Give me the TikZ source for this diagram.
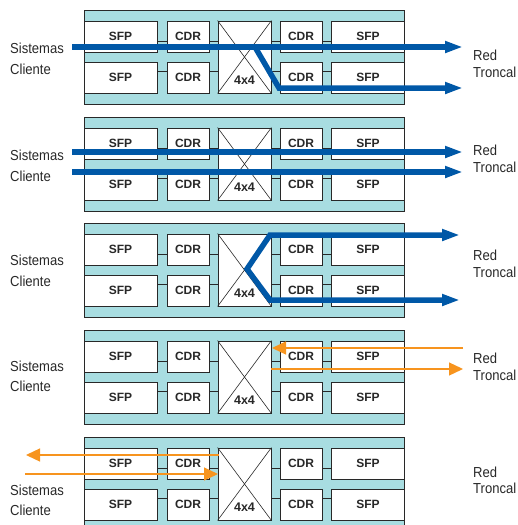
\documentclass[tikz,border=0pt]{standalone}
\usepackage{fontspec}
\setmainfont{Liberation Sans}
\newfontfamily\narrowsans[FakeStretch=0.9]{Liberation Sans}
\usetikzlibrary{arrows.meta}
\definecolor{panelfill}{RGB}{168,221,225}
\definecolor{edgegray}{RGB}{40,40,40}
\definecolor{flowblue}{RGB}{0,88,167}
\definecolor{floworange}{RGB}{247,148,30}
\tikzset{
  panelbox/.style={draw=edgegray, line width=0.9pt, fill=panelfill},
  unitbox/.style={draw=edgegray, line width=0.9pt, fill=white, inner sep=0pt,
    minimum height=31pt, font=\bfseries\fontsize{12}{14}\selectfont, text=edgegray},
  sfpbox/.style={unitbox, minimum width=73pt},
  cdrbox/.style={unitbox, minimum width=42pt},
  swbox/.style={draw=edgegray, line width=0.9pt, fill=white, inner sep=0pt,
    minimum width=53pt, minimum height=72pt},
  wire/.style={draw=edgegray, line width=0.9pt},
  xline/.style={draw=edgegray, line width=0.6pt},
  swlabel/.style={anchor=base, inner sep=0pt, font=\bfseries\fontsize{12.5}{14}\selectfont, text=edgegray},
  sidelabel/.style={anchor=base west, inner sep=0pt, font=\narrowsans\fontsize{14.5}{17}\selectfont, text=edgegray},
  bigflow/.style={draw=flowblue, line width=5.5pt, -{Triangle[length=18pt,width=11pt]}},
  bigflowboth/.style={draw=flowblue, line width=5.5pt,
    {Triangle[length=18pt,width=11pt]}-{Triangle[length=18pt,width=11pt]}},
  smallflow/.style={draw=floworange, line width=1.3pt, -{Triangle[length=14pt,width=13pt]}},
}
\begin{document}
\begin{tikzpicture}[x=1pt,y=-1pt]
\useasboundingbox (0,0) rectangle (517,525);

\foreach \i/\T in {1/10,2/117,3/223,4/330,5/437}{
  \node[panelbox, inner sep=0pt, minimum width=320pt, minimum height=94pt] (pan\i) at (244,\T+47) {};
  % row a (top)
  \node[sfpbox] (sla\i) at (120.5,\T+26.5) {SFP};
  \node[cdrbox] (cla\i) at (188,\T+26.5) {CDR};
  \node[cdrbox] (cra\i) at (301,\T+26.5) {CDR};
  \node[sfpbox] (sra\i) at (368,\T+26.5) {SFP};
  % row b (bottom)
  \node[sfpbox] (slb\i) at (120.5,\T+67.5) {SFP};
  \node[cdrbox] (clb\i) at (188,\T+67.5) {CDR};
  \node[cdrbox] (crb\i) at (301,\T+67.5) {CDR};
  \node[sfpbox] (srb\i) at (368,\T+67.5) {SFP};
  % switch
  \node[swbox] (sw\i) at (244.5,\T+47) {};
  \draw[xline] (sw\i.north west) -- (sw\i.south east);
  \draw[xline] (sw\i.north east) -- (sw\i.south west);
  \node[swlabel] (sq\i) at ([yshift=9pt]sw\i.south) {4x4};
  % connectors
  \draw[wire] ([yshift=-4.5pt]sla\i.east) -- ([yshift=-4.5pt]cla\i.west);
  \draw[wire] ([yshift=-4.5pt]cla\i.east) -- ([yshift=-4.5pt]cla\i.east -| sw\i.west);
  \draw[wire] ([yshift=-4.5pt]cra\i.west -| sw\i.east) -- ([yshift=-4.5pt]cra\i.west);
  \draw[wire] ([yshift=-4.5pt]cra\i.east) -- ([yshift=-4.5pt]sra\i.west);
  \draw[wire] ([yshift=6.5pt]slb\i.east) -- ([yshift=6.5pt]clb\i.west);
  \draw[wire] ([yshift=6.5pt]clb\i.east) -- ([yshift=6.5pt]clb\i.east -| sw\i.west);
  \draw[wire] ([yshift=6.5pt]crb\i.west -| sw\i.east) -- ([yshift=6.5pt]crb\i.west);
  \draw[wire] ([yshift=6.5pt]crb\i.east) -- ([yshift=6.5pt]srb\i.west);
}

% side labels
\node[sidelabel] (sa1) at (10,53) {Sistemas};
\node[sidelabel] (sb1) at (10,74) {Cliente};
\node[sidelabel] (ra1) at (473,60) {Red};
\node[sidelabel] (rb1) at (473,77) {Troncal};
\node[sidelabel] (sa2) at (10,160) {Sistemas};
\node[sidelabel] (sb2) at (10,181) {Cliente};
\node[sidelabel] (ra2) at (473,155) {Red};
\node[sidelabel] (rb2) at (473,172) {Troncal};
\node[sidelabel] (sa3) at (10,265) {Sistemas};
\node[sidelabel] (sb3) at (10,286) {Cliente};
\node[sidelabel] (ra3) at (473,260) {Red};
\node[sidelabel] (rb3) at (473,277) {Troncal};
\node[sidelabel] (sa4) at (10,371) {Sistemas};
\node[sidelabel] (sb4) at (10,391) {Cliente};
\node[sidelabel] (ra4) at (473,363) {Red};
\node[sidelabel] (rb4) at (473,380) {Troncal};
\node[sidelabel] (sa5) at (10,495) {Sistemas};
\node[sidelabel] (sb5) at (10,515) {Cliente};
\node[sidelabel] (ra5) at (473,477) {Red};
\node[sidelabel] (rb5) at (473,493) {Troncal};

% panel 1 flows
\coordinate (b1s) at (72,47);
\coordinate (b1e) at (463,47);
\coordinate (b1k) at (255,47);
\coordinate (b1m) at (279,88);
\coordinate (b1f) at (463,88);
\draw[bigflow] (b1s) -- (b1e);
\draw[bigflow] (b1k) -- (b1m) -- (b1f);

% panel 2 flows
\coordinate (b2s) at (72,152);
\coordinate (b2e) at (463,152);
\coordinate (b2t) at (72,172);
\coordinate (b2f) at (463,172);
\draw[bigflow] (b2s) -- (b2e);
\draw[bigflow] (b2t) -- (b2f);

% panel 3 flows
\coordinate (b3e) at (460,235);
\coordinate (b3t) at (270,235);
\coordinate (b3v) at (247,269);
\coordinate (b3u) at (270,300);
\coordinate (b3f) at (460,300);
\draw[bigflowboth] (b3e) -- (b3t) -- (b3v) -- (b3u) -- (b3f);

% panel 4 flows
\coordinate (o4a) at (463,348);
\coordinate (o4b) at (272,348);
\coordinate (o4c) at (271,369);
\coordinate (o4d) at (463,369);
\draw[smallflow] (o4a) -- (o4b);
\draw[smallflow] (o4c) -- (o4d);

% panel 5 flows
\coordinate (o5a) at (219,455);
\coordinate (o5b) at (26,455);
\coordinate (o5c) at (25,474);
\coordinate (o5d) at (218,474);
\draw[smallflow] (o5a) -- (o5b);
\draw[smallflow] (o5c) -- (o5d);
\end{tikzpicture}
\end{document}
